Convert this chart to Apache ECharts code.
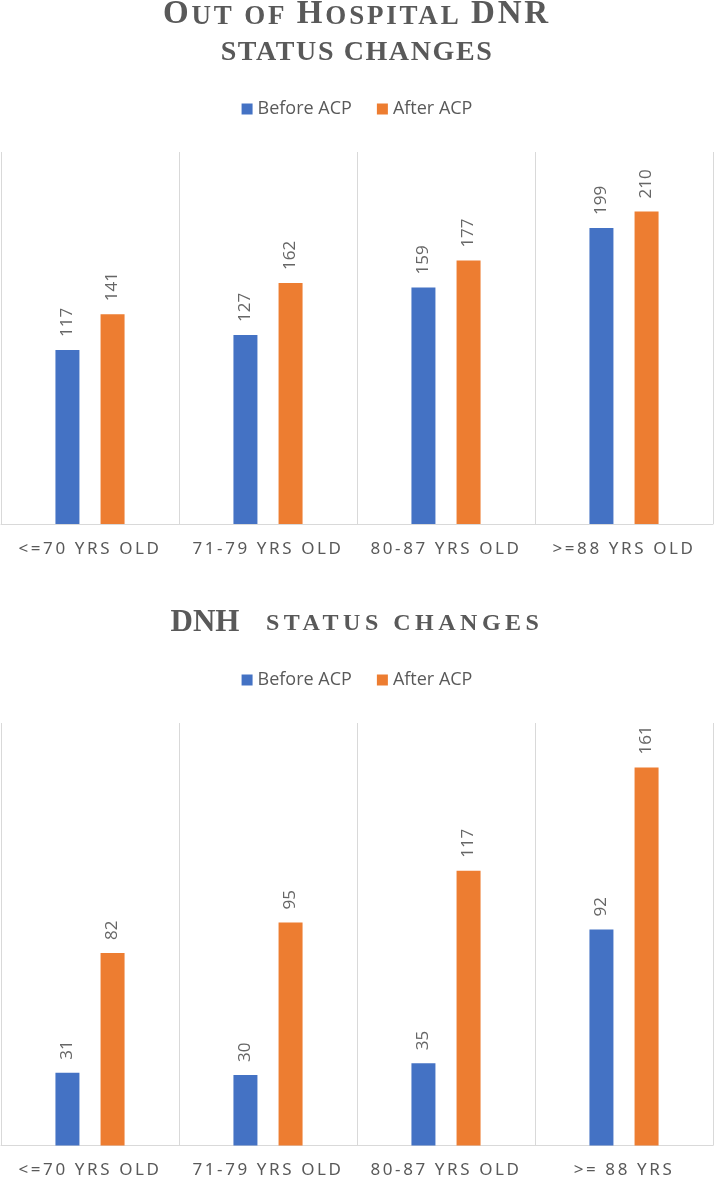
<!DOCTYPE html>
<html>
<head>
<meta charset="utf-8">
<script src="https://cdn.jsdelivr.net/npm/echarts@6/dist/echarts.min.js"></script>
<style>
  html, body { margin: 0; padding: 0; background: #fff; }
  #chart { width: 714px; height: 1180px; }
</style>
</head>
<body>
<div id="chart"></div>
<script>
const seriesNames = ['Before ACP', 'After ACP'];
const categoriesDNR = ['<=70 YRS OLD', '71-79 YRS OLD', '80-87 YRS OLD', '>=88 YRS OLD'];
const categoriesDNH = ['<=70 YRS OLD', '71-79 YRS OLD', '80-87 YRS OLD', '>= 88 YRS'];
const dnrBefore = [117, 127, 159, 199];
const dnrAfter = [141, 162, 177, 210];
const dnhBefore = [31, 30, 35, 92];
const dnhAfter = [82, 95, 117, 161];
const dnrMax = 250;
const dnhMax = 180;

// Expanded character spacing (as in the original small-caps titles and axis labels),
// applied per font family/size through the canvas letterSpacing property.
const SPACING = {
  'Liberation Serif': { 33: 2.8, 27: 2.8, 28: 1.6, 31: 0, 24: 4.5 },
  'Noto Sans': { 17: 2.6 }
};
(function () {
  const proto = CanvasRenderingContext2D.prototype;
  const desc = Object.getOwnPropertyDescriptor(proto, 'font');
  if (!desc || !('letterSpacing' in proto)) return;
  Object.defineProperty(proto, 'font', {
    configurable: true,
    get() { return desc.get.call(this); },
    set(v) {
      desc.set.call(this, v);
      let sp = 0;
      const m = /(\d+(?:\.\d+)?)px\s+(.+)$/.exec(String(v));
      if (m) {
        const fam = m[2].replace(/["']/g, '').split(',')[0].trim();
        const size = parseFloat(m[1]);
        if (SPACING[fam] && SPACING[fam][size] != null) sp = SPACING[fam][size];
      }
      this.letterSpacing = sp + 'px';
    }
  });
})();

const BLUE = '#4472C4';
const ORANGE = '#ED7D31';
const GREY = '#595959';
const LINE = '#d9d9d9';
const SERIF = 'Liberation Serif';

function tstyle(size, lh, extra) {
  return Object.assign({ fontFamily: SERIF, fontWeight: 'bold', fontSize: size, color: GREY, verticalAlign: 'bottom', lineHeight: lh }, extra || {});
}

function catAxis(idx, cats) {
  return {
    type: 'category', gridIndex: idx, data: cats,
    axisLine: { show: true, lineStyle: { color: LINE, width: 1 } },
    axisTick: { show: false },
    splitLine: { show: true, lineStyle: { color: LINE, width: 1 } },
    axisLabel: { interval: 0, margin: 15, color: GREY, fontFamily: 'Noto Sans', fontSize: 17 }
  };
}
function valAxis(idx, max) {
  return { type: 'value', gridIndex: idx, min: 0, max: max, show: false, splitLine: { show: false } };
}
const barLabel = {
  show: true, position: 'top', rotate: 90, align: 'left', verticalAlign: 'middle',
  distance: 13, color: '#666', fontFamily: 'Open Sans', fontSize: 17
};
function bar(name, data, color, x, y) {
  return {
    type: 'bar', name: name, data: data, xAxisIndex: x, yAxisIndex: y,
    barWidth: 24, barGap: '88%', itemStyle: { color: color },
    label: barLabel, silent: true
  };
}
const legendBase = {
  left: 'center', icon: 'rect', itemWidth: 11, itemHeight: 11, itemGap: 25,
  data: seriesNames,
  textStyle: { color: GREY, fontFamily: 'Open Sans', fontSize: 18, lineHeight: 18, padding: [0, 0, 0, 0] },
  selectedMode: false
};

const option = {
  animation: false,
  backgroundColor: '#fff',
  title: [
    {
      left: 'center', top: -1, padding: 0,
      text: '{b|O}{s|UT OF }{b|H}{s|OSPITAL }{b|DNR}',
      textStyle: { rich: { b: tstyle(33, 33), s: tstyle(27, 30.1) } }
    },
    {
      left: 'center', top: 38, padding: 0,
      text: 'STATUS CHANGES',
      textStyle: { fontFamily: SERIF, fontWeight: 'bold', fontSize: 28, color: GREY, lineHeight: 30 }
    },
    {
      left: 'center', top: 607, padding: 0,
      text: '{b|DNH}{s| STATUS CHANGES}',
      textStyle: { rich: { b: tstyle(31, 31, { padding: [0, 16, 0, 0] }), s: tstyle(24, 27.6) } }
    }
  ],
  legend: [
    Object.assign({}, legendBase, { top: 95 }),
    Object.assign({}, legendBase, { top: 666 })
  ],
  grid: [
    { left: 1, right: 1, top: 152, height: 372 },
    { left: 1, right: 1, top: 723, height: 425 }
  ],
  xAxis: [catAxis(0, categoriesDNR), catAxis(1, categoriesDNH)],
  yAxis: [valAxis(0, dnrMax), valAxis(1, dnhMax)],
  series: [
    bar(seriesNames[0], dnrBefore, BLUE, 0, 0),
    bar(seriesNames[1], dnrAfter, ORANGE, 0, 0),
    bar(seriesNames[0], dnhBefore, BLUE, 1, 1),
    bar(seriesNames[1], dnhAfter, ORANGE, 1, 1)
  ]
};
const chart = echarts.init(document.getElementById('chart'));
chart.setOption(option);
</script>
</body>
</html>
